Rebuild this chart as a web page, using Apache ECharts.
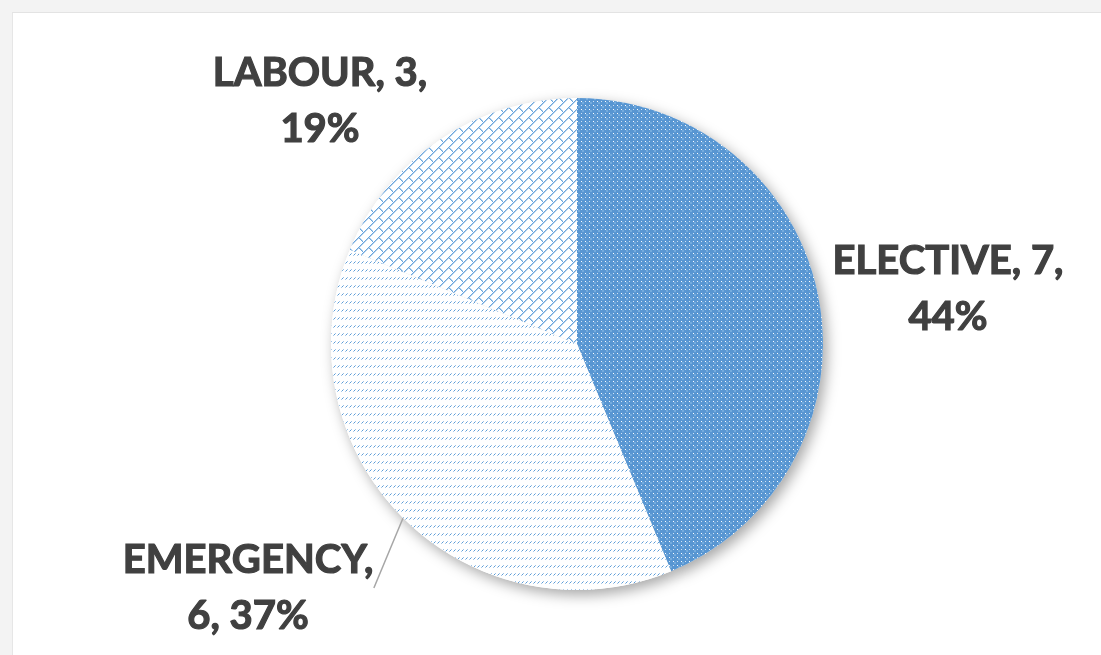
<!DOCTYPE html>
<html>
<head>
<meta charset="utf-8">
<script src="https://cdn.jsdelivr.net/npm/echarts@6/dist/echarts.min.js"></script>
<style>
  html, body { margin: 0; padding: 0; width: 1101px; height: 655px; background: #f3f3f3; overflow: hidden; }
  #chart { position: absolute; left: 12px; top: 12px; width: 1089px; height: 643px; background: #ffffff;
           border-top: 1px solid #e3e3e3; border-left: 1px solid #e6e6e6; box-sizing: border-box; }
</style>
</head>
<body>
<div id="chart"></div>
<script>
// ---- data ----
const categories = ['ELECTIVE', 'EMERGENCY', 'LABOUR'];
const counts = [7, 6, 3];

// ---- patterns ----
function makeTile(w, h, bg, pixels) {
  const c = document.createElement('canvas');
  c.width = w; c.height = h;
  const g = c.getContext('2d');
  g.fillStyle = bg; g.fillRect(0, 0, w, h);
  pixels.forEach(p => { g.fillStyle = p[2]; g.fillRect(p[0], p[1], 1, 1); });
  return c;
}
const electiveTile = makeTile(8, 8, '#5896d2', [
  [0,0,'#ffffff'],[4,4,'#ffffff'],[4,0,'#cfe1f3'],[0,4,'#cfe1f3'],
  [1,1,'#74abdd'],[2,1,'#74abdd'],[1,2,'#74abdd'],[2,2,'#74abdd'],
  [5,5,'#74abdd'],[6,5,'#74abdd'],[5,6,'#74abdd'],[6,6,'#74abdd']
]);
const emergencyTile = makeTile(4, 8, '#ffffff', [
  [2,0,'#9cc3e8'],[1,1,'#5b9bd5'],[0,2,'#a7c9ea']
]);
const labourPix = [];
for (let x = 0; x < 10; x++) {
  for (let y = 0; y < 10; y++) {
    const s = (x + y) % 10;
    if (s === 9) labourPix.push([x, y, '#6aa5dc']);
    else if (s === 0) labourPix.push([x, y, '#b5d2ee']);
  }
}
[[5,4,'#6aa5dc'],[6,5,'#6aa5dc'],[7,6,'#6aa5dc'],[8,7,'#6aa5dc'],[9,8,'#6aa5dc'],
 [6,4,'#b5d2ee'],[7,5,'#b5d2ee'],[8,6,'#b5d2ee'],[9,7,'#b5d2ee']].forEach(p => labourPix.push(p));
const labourTile = makeTile(10, 10, '#ffffff', labourPix);
const tiles = [electiveTile, emergencyTile, labourTile];

// ---- label layout ----
const labelBreaks = { ELECTIVE: 'after-count', EMERGENCY: 'after-name', LABOUR: 'after-count' };
const labelCenters = [[935, 276], [235, 575], [307, 88]];

const chart = echarts.init(document.getElementById('chart'), null, { renderer: 'canvas' });

const mainData = categories.map((n, i) => ({
  name: n,
  value: counts[i],
  itemStyle: { color: { image: tiles[i], repeat: 'repeat' } },
  labelLine: { show: n === 'EMERGENCY' }
}));
const shadowData = categories.map((n, i) => ({ name: n, value: counts[i] }));

chart.setOption({
  animation: false,
  series: [
    {
      type: 'pie',
      silent: true,
      center: [564, 331],
      radius: 246,
      startAngle: 90,
      data: shadowData,
      label: { show: false },
      labelLine: { show: false },
      itemStyle: { color: '#ffffff', shadowBlur: 14, shadowOffsetX: 4, shadowOffsetY: 5, shadowColor: 'rgba(0,0,0,0.35)' },
      z: 1
    },
    {
      type: 'pie',
      center: [564, 331],
      radius: 246,
      startAngle: 90,
      percentPrecision: 0,
      data: mainData,
      itemStyle: { borderWidth: 0 },
      label: {
        show: true,
        position: 'outside',
        fontFamily: 'Lato',
        fontWeight: 'bold',
        fontSize: 40,
        lineHeight: 56,
        color: '#404040',
        textBorderColor: '#404040',
        textBorderWidth: 1.2,
        align: 'center',
        formatter: p => labelBreaks[p.name] === 'after-name'
          ? p.name + ',\n' + p.value + ', ' + p.percent + '%'
          : p.name + ', ' + p.value + ',\n' + p.percent + '%'
      },
      labelLine: { lineStyle: { color: '#a6a6a6', width: 1.5 }, length: 10, length2: 0 },
      labelLayout: p => ({
        x: labelCenters[p.dataIndex][0],
        y: labelCenters[p.dataIndex][1],
        align: 'center',
        verticalAlign: 'middle'
      }),
      z: 2
    }
  ]
});
</script>
</body>
</html>
